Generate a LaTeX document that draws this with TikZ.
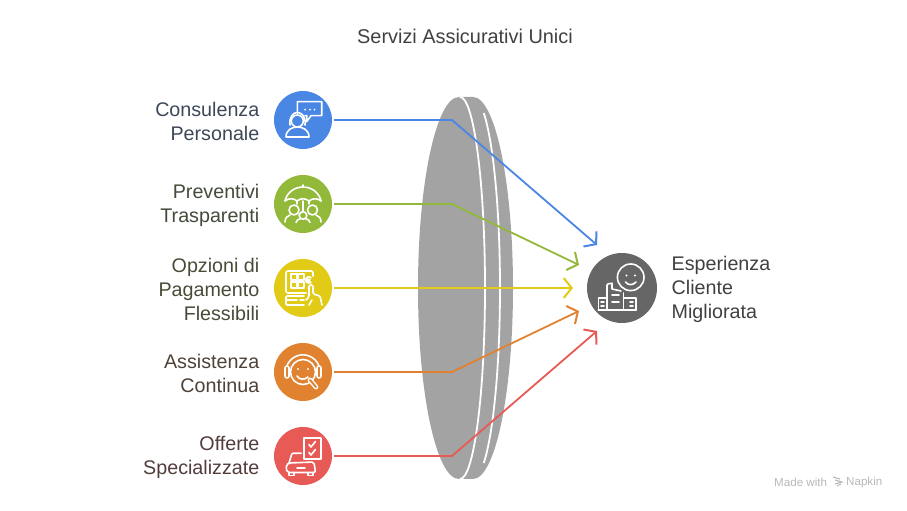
\documentclass[tikz,border=0pt]{standalone}
\usepackage{fontspec}
\setmainfont{Liberation Sans}
\usepackage{xcolor}
\usetikzlibrary{arrows.meta, positioning}

\definecolor{cblue}{HTML}{4A86E4}
\definecolor{cgreen}{HTML}{93B93A}
\definecolor{cyellow}{HTML}{E2CB16}
\definecolor{corange}{HTML}{E08230}
\definecolor{cred}{HTML}{E75A55}
\definecolor{cdark}{HTML}{666666}
\definecolor{clens}{HTML}{A3A3A3}
\definecolor{tblue}{HTML}{3C4858}
\definecolor{tgreen}{HTML}{434B3A}
\definecolor{tyellow}{HTML}{4A4A38}
\definecolor{torange}{HTML}{4E4238}
\definecolor{tred}{HTML}{523C3C}

\begin{document}
\begin{tikzpicture}[x=1pt,y=1pt,node distance=84pt,on grid]
    \tikzstyle{service}=[shape=circle,minimum size=58pt,inner sep=0pt,outer sep=2pt]
    \tikzstyle{label}=[font=\fontsize{19.7}{24}\selectfont,align=right,anchor=east,inner sep=0pt]
    \tikzstyle{link}=[line width=1.8pt,-{Straight Barb[length=8pt,width=20pt,line width=2pt]}]
    \tikzstyle{icon}=[draw=white,line width=1.6pt,line join=round,line cap=round]

    \useasboundingbox (0,0) rectangle (907,511);

    \node[font=\fontsize{19.9}{24}\selectfont,text=black!75] (title) at (465,475) {Servizi Assicurativi Unici};

    % lens
    \fill[clens] (459,414) -- (473,414) arc[start angle=90,end angle=-90,x radius=40,y radius=191]
        -- (459,32) arc[start angle=270,end angle=90,x radius=41,y radius=191] -- cycle;
    \draw[white,line width=1.8pt] (460,414) arc[start angle=90,end angle=-90,x radius=25,y radius=191];
    \draw[white,line width=1.8pt] (483.8,398) arc[start angle=66.4,end angle=-66.4,x radius=27,y radius=191];

    \node[service,fill=cblue] (A1) at (303,391) {};
    \node[service,fill=cgreen,below of=A1] (A2) {};
    \node[service,fill=cyellow,below of=A2] (A3) {};
    \node[service,fill=corange,below of=A3] (A4) {};
    \node[service,fill=cred,below of=A4] (A5) {};
    \node[shape=circle,minimum size=70pt,inner sep=0pt,fill=cdark] (E1) at (622,223) {};

    \node[label,text=tblue] (L1) at (259.5,390) {Consulenza\\Personale};
    \node[label,text=tgreen] (L2) at (259.5,306) {Preventivi\\Trasparenti};
    \node[label,text=tyellow] (L3) at (259.5,222) {Opzioni di\\Pagamento\\Flessibili};
    \node[label,text=torange] (L4) at (259.5,138) {Assistenza\\Continua};
    \node[label,text=tred] (L5) at (259.5,54) {Offerte\\Specializzate};
    \node[font=\fontsize{19.7}{24}\selectfont,align=left,anchor=west,inner sep=0pt,text=black!75] (L6) at (671.5,222) {Esperienza\\Cliente\\Migliorata};

    \coordinate (K1) at (452,391);
    \coordinate (K2) at (452,307);
    \coordinate (K4) at (452,139);
    \coordinate (K5) at (452,55);
    \coordinate (T1) at (597,266);
    \coordinate (T2) at (579,246);
    \coordinate (T3) at (573,223);
    \coordinate (T4) at (579,200);
    \coordinate (T5) at (597,180);

    \draw[link,cblue] (A1) -- (K1) -- (T1);
    \draw[link,cgreen] (A2) -- (K2) -- (T2);
    \draw[link,cyellow] (A3) -- (T3);
    \draw[link,corange] (A4) -- (K4) -- (T4);
    \draw[link,cred] (A5) -- (K5) -- (T5);

    % person with speech bubble
    \begin{scope}[shift={(A1)}]
        \draw[icon] (-5.7,7) -- (-5.7,18.3) -- (18.7,18.3) -- (18.7,4.3) -- (8,4.3) -- (3.7,-1.7) -- (3.7,4.3) -- (2,4.3);
        \foreach \x in {2,7,11.5} \fill[white] (\x,10.3) circle (1);
        \draw[icon] (-5.7,-1) circle (6);
        \draw[icon] (-13,-5) .. controls (-14,3) and (-10,7.5) .. (-5.7,7.5) .. controls (-1,7.5) and (3,3) .. (2,-5);
        \draw[icon] (-17,-17) -- (6,-17) .. controls (6,-10) and (0,-7) .. (-5.7,-7) .. controls (-11,-7) and (-17,-10) .. (-17,-17) -- cycle;
    \end{scope}

    % umbrella and family
    \begin{scope}[shift={(A2)}]
        \draw[icon] (-18,3) .. controls (-16,12) and (-8,17) .. (0,17) .. controls (8,17) and (16,12) .. (18,3);
        \draw[icon] (-18,3) to[bend left=40] (-6,3) to[bend left=40] (6,3) to[bend left=40] (18,3);
        \draw[icon] (0,17) -- (0,19) (-6,3) -- (-6,0) (6,3) -- (6,0) (0,3) -- (0,-7);
        \draw[icon] (-9,-6) circle (5) (9.5,-6) circle (5) (0,-11.5) circle (3.8);
        \draw[icon] (-18,-18) .. controls (-18,-14) and (-16,-12) .. (-13,-11) (18,-18) .. controls (18,-14) and (16,-12) .. (13,-11);
        \draw[icon] (-7,-18.5) .. controls (-6,-16) and (-5,-15) .. (-3,-15) (7,-18.5) .. controls (6,-16) and (5,-15) .. (3,-15);
    \end{scope}

    % terminal and hand
    \begin{scope}[shift={(A3)}]
        \draw[icon,rounded corners=2pt] (3,-5) -- (-17,-5) -- (-17,17) -- (10,17) -- (10,12);
        \draw[icon] (-12,14) rectangle (-6,8) (-5,14) rectangle (1,8) (-12,6) rectangle (-6,0) (-5,6) rectangle (1,0);
        \draw[icon] (8,10.5) arc[start angle=50,end angle=310,radius=3.2] (3,8.5) -- (7,8.5) (3,6.5) -- (7,6.5);
        \draw[icon,rounded corners=1pt] (1,-8) -- (-17,-8) -- (-17,-17) -- (1,-17);
        \draw[icon] (-17,-12) -- (-6,-12) (-3,-12) -- (1,-12);
        \draw[icon,rounded corners=1.5pt] (3,-12) -- (6,-9) -- (6,3) -- (10,3) -- (10,-6) -- (17,-8) -- (19,-17);
        \draw[icon] (6,-17) -- (9,-12);
    \end{scope}

    % head with headset
    \begin{scope}[shift={(A4)}]
        \draw[icon] (0,0) circle (12.5);
        \draw[icon] (-16.5,5) arc[start angle=163,end angle=17,radius=17.2];
        \draw[icon,fill=corange,rounded corners=2pt] (-14,6) rectangle (-18,-6) (14,6) rectangle (18,-6);
        \fill[white] (-5,3) circle (1.2) (5,3) circle (1.2);
        \draw[icon] (-6,-4) .. controls (-4,-8) and (2,-8) .. (5,-5);
        \draw[white,line width=4.8pt,line cap=round] (7,-8) -- (13,-15);
        \draw[corange,line width=2pt,line cap=round] (7,-8) -- (13,-15);
    \end{scope}

    % car and checklist
    \begin{scope}[shift={(A5)}]
        \draw[icon] (1,18) rectangle (18,-3);
        \draw[icon] (6,11.5) -- (8,9) -- (12.5,14.5) (6,3.5) -- (8,1) -- (12.5,6.5);
        \draw[icon,rounded corners=1pt] (-2,2.7) -- (-11,2.7) -- (-14,-7);
        \draw[icon,rounded corners=2pt] (-16,-16.5) -- (-17,-9) -- (-14,-7) -- (11,-6) -- (12.5,-16.5) -- cycle;
        \draw[icon] (-14,-16.5) -- (-14,-19.5) -- (-9,-19.5) -- (-9,-16.5) (5,-16.5) -- (5,-19.5) -- (10,-19.5) -- (10,-16.5);
        \draw[icon] (-6,-12) -- (2,-12);
    \end{scope}

    % smiling face and buildings
    \begin{scope}[shift={(E1)}]
        \draw[icon] (8.7,10.7) circle (13.3);
        \fill[white] (4.5,12.5) circle (1.2) (13,12.5) circle (1.2);
        \draw[icon] (3.5,6) .. controls (6,2.5) and (11,2.5) .. (14,6);
        \draw[icon,rounded corners=1pt] (-15,-22) -- (-15,4) -- (-10,4.7);
        \draw[icon] (-10,4.7) -- (-10,-1) -- (-1,-3);
        \draw[icon] (-23.7,-22) rectangle (-15,-10) (1.3,-22) rectangle (14,-10);
        \draw[icon] (1.3,-22) -- (1.3,-5) (-23.7,-22) -- (14,-22);
        \draw[icon] (-10,-7) -- (-3,-7) (-10,-14) -- (-3,-14) (-21,-14) -- (-18,-14) (-21,-18) -- (-18,-18) (8,-14) -- (11,-14) (8,-18) -- (11,-18);
    \end{scope}

    % footer
    \node[font=\fontsize{11.6}{13}\selectfont,text=black!28,anchor=west,inner sep=0pt] (M1) at (774,28.5) {Made with};
    \node[font=\fontsize{11.6}{13}\selectfont,text=black!28,anchor=west,inner sep=0pt] (M2) at (846,28.5) {Napkin};
    \draw[black!28,line width=1.1pt] (833,34) -- (840,32) (835,31) -- (842,29) -- (835,27) (837,25) -- (841,27);
\end{tikzpicture}
\end{document}
